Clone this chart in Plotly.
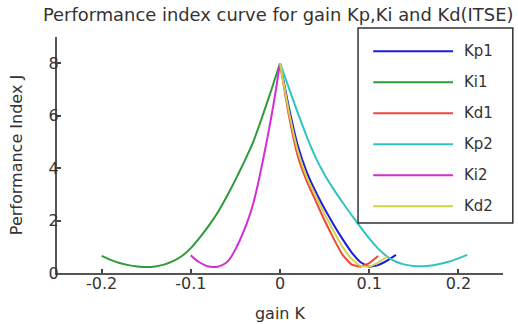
import plotly.graph_objects as go

# ---- data ----
names = ["Kp1", "Ki1", "Kd1", "Kp2", "Ki2", "Kd2"]
colors = ["#1c1ce0", "#2e9a3a", "#f0463c", "#2fc4c4", "#d22ed2", "#d2d24a"]

kp1_k = [0, 0.01, 0.02, 0.03, 0.04, 0.05, 0.06, 0.07, 0.08, 0.09, 0.10, 0.11, 0.12, 0.13]
kp1_j = [8, 6.3, 4.85, 3.85, 3.1, 2.45, 1.85, 1.3, 0.8, 0.42, 0.24, 0.3, 0.47, 0.69]

ki1_k = [-0.2, -0.19, -0.18, -0.17, -0.16, -0.15, -0.14, -0.13, -0.12, -0.11, -0.10,
         -0.09, -0.08, -0.07, -0.06, -0.05, -0.04, -0.03, -0.02, -0.01, 0]
ki1_j = [0.65, 0.5, 0.38, 0.3, 0.25, 0.23, 0.25, 0.32, 0.45, 0.65, 0.95,
         1.35, 1.8, 2.3, 2.9, 3.55, 4.25, 5.0, 5.95, 6.95, 8]

kd1_k = [0, 0.01, 0.02, 0.03, 0.04, 0.05, 0.06, 0.07, 0.08, 0.09, 0.10, 0.11]
kd1_j = [8, 6.0, 4.45, 3.5, 2.75, 2.0, 1.32, 0.7, 0.33, 0.24, 0.38, 0.65]

kp2_k = [0, 0.01, 0.02, 0.03, 0.04, 0.05, 0.06, 0.07, 0.08, 0.09, 0.10, 0.11,
         0.12, 0.13, 0.14, 0.15, 0.16, 0.17, 0.18, 0.19, 0.20, 0.21]
kp2_j = [8, 7.05, 6.1, 5.2, 4.4, 3.75, 3.2, 2.7, 2.22, 1.76, 1.32, 0.93,
         0.63, 0.43, 0.32, 0.27, 0.26, 0.29, 0.35, 0.44, 0.56, 0.69]

ki2_k = [-0.1, -0.095, -0.09, -0.085, -0.08, -0.075, -0.07, -0.065, -0.06, -0.055, -0.05,
         -0.045, -0.04, -0.035, -0.03, -0.025, -0.02, -0.015, -0.01, -0.005, 0]
ki2_j = [0.68, 0.52, 0.4, 0.31, 0.25, 0.23, 0.24, 0.3, 0.4, 0.6, 0.9,
         1.25, 1.65, 2.1, 2.65, 3.35, 4.15, 5.0, 5.9, 6.9, 8]

kd2_k = [0, 0.01, 0.02, 0.03, 0.04, 0.05, 0.06, 0.07, 0.08, 0.09, 0.10, 0.11, 0.12]
kd2_j = [8, 6.15, 4.65, 3.65, 2.95, 2.25, 1.6, 1.0, 0.55, 0.27, 0.25, 0.4, 0.62]

x_ticks = [-0.2, -0.1, 0, 0.1, 0.2]
x_tick_labels = ["-0.2", "-0.1", "0", "0.1", "0.2"]
y_ticks = [0, 2, 4, 6, 8]
y_tick_labels = ["0", "2", "4", "6", "8"]

series = [(kp1_k, kp1_j), (ki1_k, ki1_j), (kd1_k, kd1_j),
          (kp2_k, kp2_j), (ki2_k, ki2_j), (kd2_k, kd2_j)]

FONT = "DejaVu Sans"
TXT = "#333333"

fig = go.Figure()
for (kx, jy), nm, col in zip(series, names, colors):
    fig.add_trace(go.Scatter(x=kx, y=jy, mode="lines", name=nm,
                             line=dict(color=col, width=2, shape="spline", smoothing=0.4),
                             showlegend=False))

# manual legend (box + samples + labels) in paper coordinates
shapes = [dict(type="rect", xref="paper", yref="paper",
               x0=0.675, x1=1.022, y0=0.212, y1=1.038,
               line=dict(color="#333333", width=1.5), fillcolor="white", layer="above")]
annotations = []
y_top = 0.940
step = 0.1314
for i, (nm, col) in enumerate(zip(names, colors)):
    yy = y_top - i * step
    shapes.append(dict(type="line", xref="paper", yref="paper",
                       x0=0.709, x1=0.888, y0=yy, y1=yy,
                       line=dict(color=col, width=2), layer="above"))
    annotations.append(dict(x=0.908, y=yy, xref="paper", yref="paper", text=nm,
                            showarrow=False, xanchor="left", yanchor="middle",
                            font=dict(family=FONT, size=15, color=TXT)))

fig.update_layout(
    width=518, height=324,
    margin=dict(l=57, r=15, t=37, b=51, autoexpand=False),
    paper_bgcolor="white", plot_bgcolor="white",
    title=dict(text="Performance index curve for gain Kp,Ki and Kd(ITSE)",
               x=0.537, xanchor="center", y=0.956, yanchor="middle",
               font=dict(family=FONT, size=17.9, color=TXT)),
    shapes=shapes, annotations=annotations,
    xaxis=dict(range=[-0.25, 0.25], tickvals=x_ticks, ticktext=x_tick_labels, automargin=False,
               showgrid=False, zeroline=False, showline=True, linecolor="#555555", linewidth=2,
               ticks="inside", ticklen=4, tickwidth=2, tickcolor="#444444", ticklabelstandoff=-5,
               tickfont=dict(family=FONT, size=16, color=TXT),
               title=dict(text="gain K", font=dict(family=FONT, size=16, color=TXT), standoff=16)),
    yaxis=dict(range=[0, 9], tickvals=y_ticks, ticktext=y_tick_labels, automargin=False,
               showgrid=False, zeroline=False, showline=True, linecolor="#555555", linewidth=2,
               ticks="inside", ticklen=4, tickwidth=2, tickcolor="#444444", ticklabelstandoff=-7,
               tickfont=dict(family=FONT, size=16, color=TXT),
               title=dict(text="Performance Index J", font=dict(family=FONT, size=16, color=TXT), standoff=22)),
)

fig.write_html("out.html", config={"displayModeBar": False},
               post_script="document.body.style.margin='0';")
